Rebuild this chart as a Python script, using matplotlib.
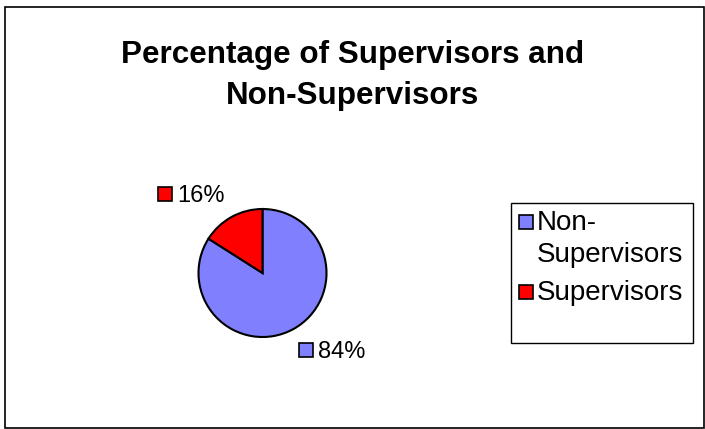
import matplotlib
matplotlib.use("Agg")
import matplotlib.pyplot as plt
from matplotlib.patches import Rectangle
from matplotlib.transforms import Affine2D

# === DATA ===
categories = ["Non-Supervisors", "Supervisors"]
legend_labels = ["Non-\nSupervisors", "Supervisors"]
values = [84, 16]
colors = ["#8080FF", "#FF0000"]
title_lines = ["Percentage of Supervisors and", "Non-Supervisors"]

W, H = 705, 429
plt.rcParams["font.family"] = ["Liberation Sans", "DejaVu Sans"]

fig = plt.figure(figsize=(W / 100, H / 100), dpi=100)
# pixel coords, origin top-left
px = Affine2D().scale(1 / W, -1 / H).translate(0, 1) + fig.transFigure

# outer border
fig.patches.append(Rectangle((4.5, 6.5), 699, 421, transform=px, fill=False,
                             edgecolor="black", linewidth=1.2))

# === TITLE ===
for line, base in zip(title_lines, [63, 104]):
    fig.text(352.5, base, line, transform=px, ha="center", va="baseline",
             fontsize=22.6, fontweight="bold")

# === PIE ===
cx, cy, r = 262.5, 273, 64
ax = fig.add_axes([(cx - r) / W, (H - cy - r) / H, 2 * r / W, 2 * r / H])
wedges, _ = ax.pie(values, colors=colors, startangle=90, counterclock=False,
                   wedgeprops=dict(edgecolor="black", linewidth=1.5))
ax.set_xlim(-1, 1)
ax.set_ylim(-1, 1)
ax.set_aspect("equal")
ax.axis("off")

# data labels with legend keys
label_pos = {"Supervisors": (158, 194), "Non-Supervisors": (299, 350)}
for cat, val, col in zip(categories, values, colors):
    x, y = label_pos[cat]
    fig.patches.append(Rectangle((x, y - 7), 14, 14, transform=px,
                                 facecolor=col, edgecolor="black", linewidth=1.2))
    fig.text(x + 19, y, f"{val}%", transform=px, ha="left",
             va="center_baseline", fontsize=17)

# === LEGEND ===
fig.patches.append(Rectangle((511, 203), 182, 140, transform=px, fill=False,
                             edgecolor="black", linewidth=1.0))
key_y = [222, 292]
for lab, col, ky in zip(legend_labels, colors, key_y):
    fig.patches.append(Rectangle((519, ky - 7), 14, 14, transform=px,
                                 facecolor=col, edgecolor="black", linewidth=1.2))
    for i, part in enumerate(lab.split("\n")):
        fig.text(537, ky + 8 + i * 32, part, transform=px, ha="left",
                 va="baseline", fontsize=20)

fig.savefig("out.png", dpi=100)
